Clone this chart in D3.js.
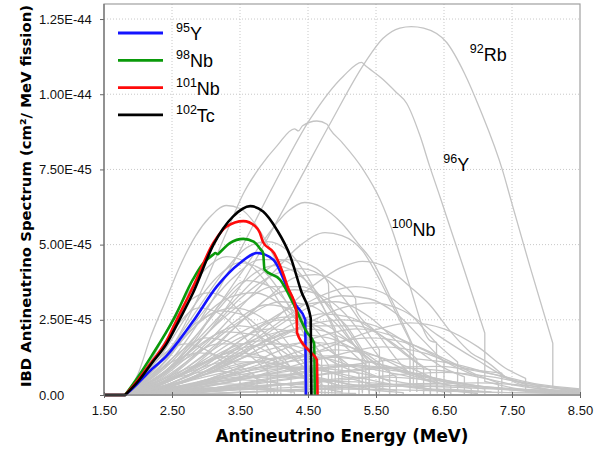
<!DOCTYPE html>
<html><head><meta charset="utf-8">
<script src="https://cdn.jsdelivr.net/npm/d3@7"></script>
<style>
html,body{margin:0;padding:0;background:#fff;}
svg{display:block;}
</style></head>
<body>
<svg id="chart" width="610" height="451"></svg>
<script>
// ---------------- DATA (energy MeV, spectrum in units of 1E-45 cm^2/MeV/fission) ----------------
const xTicks = [1.5, 2.5, 3.5, 4.5, 5.5, 6.5, 7.5, 8.5];
const xTickLabels = ["1.50", "2.50", "3.50", "4.50", "5.50", "6.50", "7.50", "8.50"];
const yTicks = [0, 2.5, 5, 7.5, 10, 12.5];
const yTickLabels = ["0.00", "2.50E-45", "5.00E-45", "7.50E-45", "1.00E-44", "1.25E-44"];

const legendNames = [["95", "Y"], ["98", "Nb"], ["101", "Nb"], ["102", "Tc"]];
const legendColors = ["#1414ff", "#0a9a0a", "#ff0a0a", "#000000"];

// flat below threshold, then each spectrum (repeated energy = vertical step)
const y95 = [[1.5,0],[1.81,0],[1.81,0],[1.95,0.28],[2.08,0.58],[2.2,0.85],[2.42,1.3],[2.6,1.8],[2.81,2.45],[3.16,3.61],[3.5,4.39],[3.75,4.72],[3.99,4.5],[4.19,3.6],[4.32,3.0],[4.46,2.5],[4.47,0]];
const nb98 = [[1.5,0],[1.81,0],[1.81,0],[2.0,0.6],[2.2,1.3],[2.53,2.55],[2.81,3.85],[2.95,4.35],[3.1,4.66],[3.14,4.72],[3.17,4.68],[3.22,4.78],[3.35,5.05],[3.55,5.19],[3.7,5.1],[3.8,4.85],[3.84,4.72],[3.86,4.17],[4.09,3.83],[4.28,3.06],[4.48,2.1],[4.59,1.72],[4.6,0]];
const nb101 = [[1.5,0],[1.81,0],[1.81,0],[2.0,0.5],[2.2,1.1],[2.42,1.8],[2.57,2.5],[2.81,3.6],[3.11,5.06],[3.3,5.6],[3.55,5.78],[3.72,5.62],[3.79,5.4],[3.84,5.08],[4.0,4.72],[4.14,4.0],[4.2,3.6],[4.33,2.78],[4.34,2.06],[4.53,1.44],[4.63,1.17],[4.64,0]];
const tc102 = [[1.5,0],[1.81,0],[1.81,0],[2.0,0.45],[2.2,1.05],[2.42,1.7],[2.62,2.55],[2.81,3.4],[3.11,5.0],[3.4,5.94],[3.65,6.28],[3.84,6.1],[4.04,5.5],[4.24,4.61],[4.4,3.45],[4.54,2.55],[4.55,0]];
const coloredSeries = [y95, nb98, nb101, tc102];

// labelled gray spectra
const rb92 = [[1.81,0],[2.5,0.9],[3.0,2.0],[3.5,3.6],[4.0,5.6],[4.38,7.17],[4.82,9.0],[5.34,11.06],[5.6,11.85],[5.85,12.2],[6.02,12.25],[6.2,12.2],[6.54,11.72],[6.8,10.7],[7.03,9.5],[7.37,7.4],[7.47,6.6],[7.76,4.3],[8.1,1.72],[8.1,0.25],[8.5,0.1]];
const y96 = [[1.81,0],[2.5,1.2],[3.0,2.8],[3.5,4.8],[4.0,7.0],[4.53,9.17],[5.02,10.6],[5.29,11.06],[5.33,10.98],[5.6,10.5],[5.8,10.06],[5.95,9.7],[6.15,8.6],[6.29,7.6],[6.44,6.6],[6.6,5.5],[6.78,4.28],[7.1,2.06],[7.1,0.45],[7.6,0.2],[8.5,0.05]];
const nb100 = [[1.81,0],[2.5,1.6],[3.0,3.8],[3.3,5.4],[3.55,6.7],[3.8,7.6],[4.05,8.3],[4.3,8.85],[4.36,8.78],[4.42,8.95],[4.63,9.11],[4.78,9.0],[4.82,8.85],[5.0,8.4],[5.31,7.5],[5.56,6.5],[5.75,5.4],[5.85,4.7],[6.0,3.6],[6.3,1.8],[6.39,1.75],[6.39,0.2],[7.0,0.05]];
const annotations = [["92","Rb",6.88,11.1],["96","Y",6.49,7.45],["100","Nb",5.73,5.3]];

// other fission-product spectra (gray background)
const grayCurves = [
 [[1.81,0],[2.0,0.7],[2.18,1.9],[2.4,3.1],[2.6,4.2],[2.85,5.3],[3.05,5.9],[3.3,6.3],[3.5,6.2],[3.75,5.6],[4.0,4.6],[4.2,3.6],[4.4,2.6],[4.5,2.1],[4.5,0.3],[5.0,0.1]],
 [[1.81,0],[2.5,1.0],[3.0,2.4],[3.5,4.0],[3.9,5.3],[4.2,6.1],[4.45,6.4],[4.7,6.25],[5.0,5.7],[5.25,5.0],[5.46,4.4],[5.7,3.3],[5.95,2.1],[6.05,1.6],[6.05,0.3],[6.5,0.1]],
 [[1.81,0],[2.5,0.4],[3.0,0.9],[3.5,1.6],[4.0,2.5],[4.5,3.5],[5.0,4.25],[5.3,4.44],[5.6,4.3],[6.0,3.6],[6.29,3.0],[6.6,2.1],[6.9,1.4],[7.13,1.1],[7.47,0.5],[7.9,0.2],[8.5,0.08]],
 [[1.81,0],[2.5,0.3],[3.0,0.7],[3.5,1.2],[4.0,1.8],[4.5,2.4],[5.0,2.9],[5.46,3.06],[5.9,2.8],[6.4,2.0],[6.98,1.17],[7.5,0.5],[8.0,0.2],[8.5,0.1]],
 [[1.81,0],[2.5,0.7],[3.0,1.7],[3.5,2.9],[4.0,4.1],[4.4,5.0],[4.75,5.4],[5.0,5.3],[5.3,4.8],[5.56,3.8],[5.8,2.7],[6.0,1.8],[6.0,0.3]],
 [[1.81,0],[2.3,1.0],[2.8,2.6],[3.3,4.2],[3.6,4.9],[3.9,5.1],[4.2,4.8],[4.5,3.9],[4.75,2.8],[4.95,1.8],[4.95,0.2]],
 [[1.81,0],[2.2,1.2],[2.6,2.9],[3.0,4.2],[3.3,4.6],[3.6,4.4],[3.9,3.7],[4.2,2.6],[4.45,1.5],[4.45,0.1]],
 [[1.81,0],[2.4,0.9],[2.9,2.1],[3.4,3.4],[3.75,4.1],[4.0,4.3],[4.3,4.1],[4.6,3.5],[4.9,2.6],[5.2,1.6],[5.35,1.1],[5.35,0.2]],
 [[1.81,0],[2.5,0.6],[3.0,1.4],[3.5,2.4],[4.0,3.4],[4.3,3.9],[4.6,4.0],[4.9,3.8],[5.2,3.2],[5.21,2.8],[5.5,2.1],[5.8,1.2],[6.0,0.7],[6.0,0.1]],
 [[1.81,0],[2.3,0.6],[2.8,1.7],[3.2,3.0],[3.6,3.8],[3.95,3.6],[4.25,2.9],[4.5,2.0],[4.7,1.3],[4.7,0.1]],
 [[1.81,0],[2.5,0.5],[3.0,1.3],[3.5,2.4],[3.9,3.2],[4.3,3.5],[4.7,3.3],[5.0,2.8],[5.3,2.0],[5.6,1.1],[5.6,0.15]],
 [[1.81,0],[2.5,0.3],[3.0,0.8],[3.5,1.4],[4.0,2.2],[4.5,2.9],[5.0,3.3],[5.4,3.2],[5.8,2.7],[6.2,1.8],[6.5,1.1],[6.5,0.2],[7.2,0.1]],
 [[1.81,0],[2.4,0.5],[2.9,1.4],[3.4,2.4],[3.9,3.0],[4.3,2.8],[4.6,2.2],[4.85,1.5],[5.0,1.1],[5.0,0.1]],
 [[1.81,0],[2.2,0.6],[2.6,1.7],[2.9,2.4],[3.2,2.8],[3.5,2.7],[3.8,2.2],[4.05,1.5],[4.25,0.9],[4.25,0.05]],
 [[1.81,0],[2.5,0.3],[3.0,0.7],[3.5,1.3],[4.0,2.0],[4.4,2.5],[4.7,2.7],[5.1,2.6],[5.5,2.1],[5.9,1.4],[6.2,0.9],[6.2,0.1]],
 [[1.81,0],[2.5,0.4],[3.0,1.0],[3.5,1.8],[4.1,2.5],[4.5,2.4],[4.9,1.9],[5.2,1.3],[5.4,0.9],[5.4,0.1]],
 [[1.81,0],[2.3,0.5],[2.8,1.4],[3.2,2.1],[3.5,2.3],[3.85,2.1],[4.15,1.6],[4.4,1.0],[4.55,0.7],[4.55,0.05]],
 [[1.81,0],[2.5,0.2],[3.0,0.5],[3.5,0.9],[4.0,1.4],[4.6,1.9],[5.2,2.2],[5.7,2.0],[6.2,1.5],[6.7,0.9],[7.0,0.6],[7.0,0.1]],
 [[1.81,0],[2.5,0.3],[3.0,0.7],[3.6,1.3],[4.0,1.8],[4.4,2.0],[4.8,1.9],[5.2,1.5],[5.6,0.9],[5.8,0.6],[5.8,0.05]],
 [[1.81,0],[2.2,0.6],[2.6,1.4],[3.0,1.9],[3.3,1.8],[3.6,1.4],[3.85,0.9],[3.95,0.7],[3.95,0.05]],
 [[1.81,0],[2.4,0.4],[2.9,1.0],[3.4,1.6],[3.8,1.8],[4.2,1.6],[4.6,1.1],[4.85,0.7],[4.85,0.05]],
 [[1.81,0],[2.5,0.1],[3.0,0.3],[3.5,0.5],[4.0,0.8],[4.7,1.2],[5.6,1.6],[6.2,1.4],[6.8,0.9],[7.35,0.73],[7.35,0.05]],
 [[1.81,0],[2.5,0.15],[3.0,0.4],[3.6,0.8],[4.2,1.2],[4.9,1.5],[5.5,1.3],[6.0,0.9],[6.4,0.5],[6.4,0.05]],
 [[1.81,0],[2.3,0.35],[2.8,0.9],[3.4,1.4],[3.8,1.3],[4.2,0.9],[4.45,0.55],[4.45,0.02]],
 [[1.81,0],[2.5,0.2],[3.0,0.5],[3.6,1.0],[4.3,1.3],[4.8,1.2],[5.3,0.8],[5.7,0.45],[5.7,0.03]],
 [[1.81,0],[2.5,0.08],[3.0,0.2],[3.5,0.35],[4.0,0.55],[5.0,0.95],[6.0,1.2],[6.6,1.05],[7.2,0.7],[7.7,0.4],[8.2,0.2],[8.5,0.13]],
 [[1.81,0],[2.4,0.25],[3.0,0.7],[3.7,1.1],[4.2,0.95],[4.6,0.6],[4.9,0.35],[4.9,0.02]],
 [[1.81,0],[2.5,0.08],[3.0,0.2],[3.8,0.5],[4.5,0.8],[5.1,1.0],[5.8,0.85],[6.5,0.5],[7.0,0.3],[7.6,0.15],[8.5,0.06]],
 [[1.81,0],[2.5,0.1],[3.2,0.35],[3.9,0.7],[4.5,0.9],[5.2,0.75],[5.8,0.45],[6.2,0.3],[6.2,0.02]],
 [[1.81,0],[2.2,0.3],[2.7,0.65],[3.1,0.8],[3.5,0.7],[3.9,0.45],[4.1,0.35],[4.1,0.0]],
 [[1.81,0],[3.0,0.1],[4.0,0.3],[5.0,0.5],[6.0,0.7],[6.5,0.75],[7.2,0.6],[7.8,0.35],[8.5,0.15]],
 [[1.81,0],[2.5,0.15],[3.2,0.45],[4.0,0.7],[4.6,0.6],[5.1,0.35],[5.4,0.2],[5.4,0.02]],
 [[1.81,0],[2.5,0.05],[3.5,0.2],[4.5,0.45],[5.5,0.6],[6.3,0.5],[7.0,0.3],[7.7,0.15],[8.5,0.07]],
 [[1.81,0],[2.4,0.15],[3.0,0.4],[3.5,0.5],[4.0,0.42],[4.4,0.25],[4.6,0.18],[4.6,0.0]],
 [[1.81,0],[2.8,0.1],[3.8,0.3],[4.8,0.45],[5.6,0.38],[6.3,0.2],[6.8,0.12],[6.8,0.0]],
 [[1.81,0],[3.0,0.05],[4.5,0.2],[5.8,0.35],[7.0,0.4],[7.8,0.3],[8.5,0.18]],
 [[1.81,0],[2.6,0.08],[3.4,0.25],[4.2,0.35],[4.9,0.28],[5.5,0.15],[5.9,0.08],[5.9,0.0]],
 [[1.81,0],[3.0,0.04],[4.2,0.15],[5.0,0.25],[6.0,0.3],[7.0,0.22],[8.5,0.1]],
 [[1.81,0],[2.5,0.12],[3.2,0.25],[3.8,0.2],[4.3,0.1],[4.3,0.0]],
 [[1.81,0],[3.0,0.05],[4.0,0.14],[5.0,0.2],[6.0,0.16],[7.0,0.1],[8.5,0.04]],
 [[1.81,0],[2.4,0.8],[2.9,1.9],[3.4,3.1],[3.8,4.0],[4.2,4.5],[4.55,4.3],[4.8,3.7],[4.81,3.1],[5.1,2.2],[5.3,1.5],[5.3,0.1]],
 [[1.81,0],[2.5,0.3],[3.0,0.8],[3.5,1.5],[4.0,2.3],[4.6,3.2],[5.2,3.6],[5.6,3.4],[6.0,2.7],[6.4,1.7],[6.7,1.1],[6.7,0.15]],
 [[1.81,0],[2.15,0.9],[2.5,2.1],[2.9,2.9],[3.2,2.7],[3.5,2.1],[3.75,1.4],[3.9,1.0],[3.9,0.05]],
 [[1.81,0],[2.15,1.0],[2.5,2.4],[2.8,3.2],[3.05,3.4],[3.3,3.2],[3.6,2.5],[3.9,1.6],[4.05,1.1],[4.05,0.05]],
 [[1.81,0],[2.5,0.15],[3.0,0.35],[3.5,0.6],[4.0,0.95],[4.7,1.5],[5.4,2.1],[6.0,2.4],[6.5,2.2],[7.0,1.6],[7.4,0.9],[7.7,0.55],[7.7,0.1],[8.5,0.05]],
 [[1.81,0],[2.1,0.7],[2.4,1.4],[2.7,1.7],[3.0,1.5],[3.3,1.0],[3.5,0.65],[3.5,0.02]],
 [[1.81,0],[2.3,0.6],[2.8,1.5],[3.3,2.1],[3.7,2.0],[4.1,1.5],[4.4,1.0],[4.6,0.7],[4.6,0.03]],
 [[1.81,0],[2.3,0.2],[2.9,0.55],[3.5,0.85],[4.1,0.95],[4.7,0.8],[5.2,0.5],[5.5,0.3],[5.5,0.0]],
 [[1.81,0],[2.6,0.3],[3.3,0.65],[4.0,0.9],[4.6,0.85],[5.3,0.55],[6.0,0.25],[6.6,0.1]],
 [[1.81,0],[2.2,0.15],[2.7,0.32],[3.2,0.38],[3.7,0.3],[4.0,0.2],[4.0,0.0]],
 [[1.81,0],[2.5,0.25],[3.3,0.6],[4.2,0.9],[5.0,1.0],[5.8,0.8],[6.6,0.45],[7.3,0.2],[8.5,0.08]],
 [[1.81,0],[2.4,0.45],[3.0,1.1],[3.6,1.6],[4.1,1.7],[4.6,1.4],[5.0,0.95],[5.25,0.7],[5.25,0.02]],
 [[1.81,0],[2.5,0.6],[3.1,1.5],[3.7,2.3],[4.2,2.6],[4.7,2.4],[5.1,1.8],[5.4,1.2],[5.55,0.9],[5.55,0.05]],
 [[1.81,0],[2.6,0.4],[3.3,1.1],[4.0,1.9],[4.6,2.3],[5.2,2.3],[5.7,1.8],[6.1,1.1],[6.3,0.8],[6.3,0.05]],
 [[1.81,0],[2.3,0.9],[2.8,2.2],[3.3,3.2],[3.7,3.4],[4.1,3.0],[4.4,2.3],[4.65,1.5],[4.8,1.0],[4.8,0.03]],
 [[1.81,0],[2.4,0.7],[2.9,1.8],[3.5,3.0],[4.0,3.6],[4.4,3.6],[4.8,3.0],[5.1,2.1],[5.3,1.4],[5.3,0.05]],
 [[1.81,0],[2.6,0.5],[3.2,1.3],[3.8,2.3],[4.4,3.0],[4.9,3.1],[5.4,2.6],[5.8,1.8],[6.1,1.2],[6.1,0.1]],
 [[1.81,0],[2.2,0.8],[2.6,1.9],[3.0,2.6],[3.4,2.9],[3.8,2.6],[4.1,2.0],[4.35,1.3],[4.5,0.9],[4.5,0.02]],
 [[1.81,0],[2.5,0.35],[3.2,0.95],[3.9,1.5],[4.5,1.75],[5.1,1.6],[5.6,1.2],[6.0,0.75],[6.3,0.45],[6.3,0.02]],
 [[1.81,0],[3.0,0.15],[4.0,0.45],[5.0,0.75],[5.8,0.9],[6.5,0.8],[7.1,0.55],[7.6,0.3],[8.5,0.1]],
 [[1.81,0],[2.7,0.2],[3.6,0.55],[4.4,0.85],[5.1,0.95],[5.8,0.7],[6.4,0.4],[6.9,0.22],[6.9,0.0]],
 [[1.81,0],[2.3,0.35],[2.8,0.8],[3.3,1.1],[3.8,1.1],[4.2,0.85],[4.5,0.55],[4.7,0.4],[4.7,0.0]],
 [[1.81,0],[2.5,0.5],[3.0,1.2],[3.5,1.9],[3.95,2.2],[4.4,2.0],[4.8,1.5],[5.1,1.0],[5.1,0.05]],
 [[1.81,0],[2.1,0.45],[2.5,1.1],[2.9,1.4],[3.2,1.3],[3.5,0.95],[3.75,0.6],[3.75,0.0]],
 [[1.81,0],[2.4,0.3],[3.2,0.8],[4.0,1.2],[4.8,1.3],[5.5,1.05],[6.1,0.6],[6.6,0.3],[6.6,0.0]],
 [[1.81,0],[2.8,0.1],[3.8,0.2],[4.8,0.3],[5.8,0.35],[6.8,0.3],[7.8,0.18],[8.5,0.12]],
 [[1.81,0],[2.3,0.1],[3.0,0.18],[3.6,0.2],[4.2,0.15],[4.8,0.08],[5.2,0.05],[5.2,0.0]],
 [[1.81,0],[2.3,1.2],[2.8,2.9],[3.2,4.0],[3.5,4.4],[3.8,4.2],[4.1,3.4],[4.35,2.4],[4.5,1.8],[4.5,0.1]],
 [[1.81,0],[2.4,1.1],[2.9,2.6],[3.4,3.9],[3.8,4.5],[4.1,4.5],[4.4,4.0],[4.7,3.0],[4.9,2.2],[4.9,0.1]],
 [[1.81,0],[2.5,0.9],[3.0,2.0],[3.5,3.2],[4.0,4.0],[4.4,4.2],[4.8,3.8],[5.1,3.0],[5.4,2.0],[5.55,1.5],[5.55,0.1]],
 [[1.81,0],[2.4,0.6],[3.0,1.6],[3.6,2.6],[4.1,3.1],[4.5,3.0],[4.9,2.4],[5.2,1.6],[5.4,1.1],[5.4,0.05]],
 [[1.81,0],[2.7,0.5],[3.5,1.4],[4.3,2.2],[5.0,2.5],[5.6,2.2],[6.1,1.5],[6.5,0.9],[6.8,0.6],[6.8,0.05]],
 [[1.81,0],[2.2,0.5],[2.7,1.2],[3.2,1.7],[3.6,1.7],[4.0,1.3],[4.3,0.85],[4.45,0.6],[4.45,0.0]],
 [[1.81,0],[2.6,0.25],[3.4,0.7],[4.2,1.1],[4.9,1.25],[5.6,1.0],[6.2,0.6],[6.7,0.35],[7.1,0.2],[7.1,0.0]],
 [[1.81,0],[2.3,0.15],[2.9,0.4],[3.5,0.6],[4.1,0.65],[4.6,0.5],[5.0,0.3],[5.0,0.0]],
 [[1.81,0],[2.5,0.5],[3.2,1.3],[3.9,2.0],[4.5,2.2],[5.0,1.9],[5.4,1.3],[5.7,0.8],[5.7,0.02]],
 [[1.81,0],[2.8,0.35],[3.7,0.95],[4.6,1.6],[5.4,1.9],[6.0,1.7],[6.6,1.1],[7.0,0.65],[7.3,0.4],[7.3,0.02]],
 [[1.81,0],[2.2,0.35],[2.8,0.95],[3.4,1.3],[3.9,1.2],[4.3,0.8],[4.6,0.45],[4.75,0.3],[4.75,0.0]],
 [[1.81,0],[3.2,0.25],[4.4,0.6],[5.5,0.9],[6.4,0.95],[7.2,0.7],[7.9,0.35],[8.5,0.2]],
 [[1.81,0],[2.5,0.2],[3.3,0.5],[4.0,0.6],[4.7,0.5],[5.3,0.3],[5.8,0.15],[5.8,0.0]]
];

// ---------------- CHART ----------------
const svg = d3.select("#chart");
const x = d3.scaleLinear().domain([1.5, 8.5]).range([104, 580]);
const y = d3.scaleLinear().domain([0, 13]).range([395, 4]);

const tickFont = "'Liberation Sans', Arial, sans-serif";
const titleFont = "'DejaVu Sans', Verdana, sans-serif";

// grid
const grid = svg.append("g");
grid.selectAll("line.v").data(xTicks.slice(1, -1)).join("line")
  .attr("x1", d => x(d)).attr("x2", d => x(d)).attr("y1", y(13)).attr("y2", y(0))
  .attr("stroke", "#c8c8c8").attr("stroke-width", 1).attr("stroke-dasharray", "1,2");
grid.selectAll("line.h").data(yTicks.slice(1)).join("line")
  .attr("x1", x(1.5)).attr("x2", x(8.5)).attr("y1", d => y(d)).attr("y2", d => y(d))
  .attr("stroke", "#c8c8c8").attr("stroke-width", 1).attr("stroke-dasharray", "1,2");

// border (top/right)
svg.append("rect").attr("x", x(1.5)).attr("y", y(13)).attr("width", x(8.5) - x(1.5)).attr("height", y(0) - y(13))
  .attr("fill", "none").attr("stroke", "#a0a0a0").attr("stroke-width", 1.2);

const line = d3.line().x(d => x(d[0])).y(d => y(d[1])).curve(d3.curveMonotoneX);
function pathFor(pts) {
  const runs = []; let cur = [pts[0]];
  for (let i = 1; i < pts.length; i++) {
    if (pts[i][0] === pts[i - 1][0]) { runs.push(cur); cur = [pts[i]]; }
    else cur.push(pts[i]);
  }
  runs.push(cur);
  return runs.map((r, i) => {
    const s = r.length > 1 ? line(r) : `M${x(r[0][0])},${y(r[0][1])}`;
    return i ? "L" + s.slice(1) : s;
  }).join("");
}

const plot = svg.append("g");
plot.selectAll("path.gray").data(grayCurves.concat([nb100, y96, rb92])).join("path")
  .attr("class", "gray").attr("d", pathFor)
  .attr("fill", "none").attr("stroke", "#c4c4c4").attr("stroke-width", 1.3).attr("stroke-linejoin", "round");

plot.selectAll("path.col").data(coloredSeries).join("path")
  .attr("class", "col").attr("d", pathFor)
  .attr("fill", "none").attr("stroke", (d, i) => legendColors[i]).attr("stroke-width", 2.6).attr("stroke-linejoin", "round");

// axes
const xAxisG = svg.append("g").attr("transform", `translate(0,392)`)
  .call(d3.axisBottom(x).tickValues(xTicks).tickFormat((d, i) => xTickLabels[i]).tickSizeInner(6).tickSizeOuter(0).tickPadding(8));
xAxisG.select(".domain").remove();
xAxisG.selectAll(".tick line").attr("stroke", "#666");
xAxisG.selectAll("text").attr("font-family", tickFont).attr("font-size", 13).attr("fill", "#111");

const yAxisG = svg.append("g").attr("transform", `translate(104,0)`)
  .call(d3.axisLeft(y).tickValues(yTicks).tickFormat((d, i) => yTickLabels[i]).tickSizeInner(4).tickSizeOuter(0));
yAxisG.select(".domain").remove();
yAxisG.selectAll(".tick line").attr("stroke", "#666");
yAxisG.selectAll("text").attr("font-family", tickFont).attr("font-size", 13).attr("fill", "#111")
  .attr("text-anchor", "start").attr("x", -65);

svg.append("line").attr("x1", x(1.5)).attr("x2", x(1.5)).attr("y1", y(13)).attr("y2", y(0)).attr("stroke", "#707070").attr("stroke-width", 1.2);
svg.append("line").attr("x1", x(1.5)).attr("x2", x(8.5)).attr("y1", y(0)).attr("y2", y(0)).attr("stroke", "#707070").attr("stroke-width", 1.2);

// axis titles
const xt = svg.append("text").attr("x", 342).attr("y", 442).attr("text-anchor", "middle")
  .attr("font-family", titleFont).attr("font-weight", "bold").attr("font-size", 17).attr("fill", "#000")
  .text("Antineutrino Energy (MeV)");
const yt = svg.append("text").attr("transform", "translate(31,196) rotate(-90)").attr("text-anchor", "middle")
  .attr("font-family", titleFont).attr("font-weight", "bold").attr("font-size", 15).attr("fill", "#000")
  .text("IBD Antineutrino Spectrum (cm²/ MeV fission)");
function fit(sel, target) {
  const fs = +sel.attr("font-size");
  const len = sel.node().getComputedTextLength();
  if (len > 0) sel.attr("font-size", (fs * target / len).toFixed(2));
}
fit(xt, 253);
fit(yt, 382);

// legend
const leg = svg.append("g");
legendNames.forEach((nm, i) => {
  const ly = 33 + i * 27.3;
  leg.append("line").attr("x1", 118).attr("x2", 163).attr("y1", ly).attr("y2", ly)
    .attr("stroke", legendColors[i]).attr("stroke-width", 2.8);
  const t = leg.append("text").attr("x", 176).attr("y", ly + 7).attr("font-family", tickFont).attr("fill", "#000");
  t.append("tspan").attr("font-size", 12.5).attr("dy", -8).text(nm[0]);
  t.append("tspan").attr("font-size", 18).attr("dy", 8).text(nm[1]);
});

// annotations
annotations.forEach(a => {
  const t = svg.append("text").attr("x", x(a[2])).attr("y", y(a[3])).attr("font-family", tickFont).attr("fill", "#000");
  t.append("tspan").attr("font-size", 12.5).attr("dy", -8).text(a[0]);
  t.append("tspan").attr("font-size", 18).attr("dy", 8).text(a[1]);
});
</script>
</body></html>
